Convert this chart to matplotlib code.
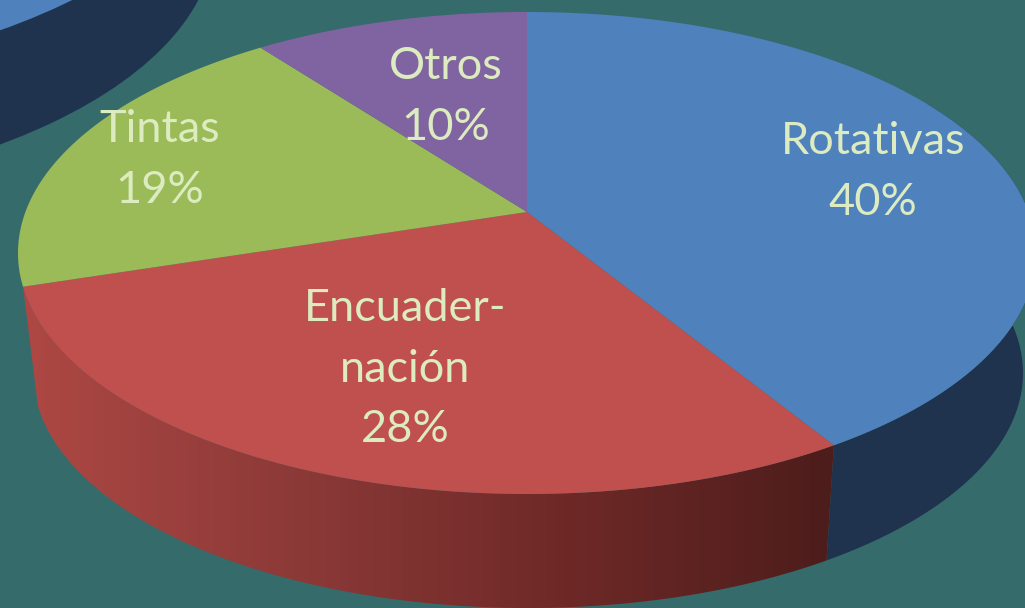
import numpy as np
import matplotlib
matplotlib.use("Agg")
import matplotlib.pyplot as plt
from matplotlib.patches import Polygon, Ellipse
from matplotlib.colors import LinearSegmentedColormap

# data (clockwise from 12 o'clock)
categories = ["Rotativas", "Encuader-\nnación", "Tintas", "Otros"]
values = [40, 28, 19, 10]
slice_colors = ["#4F81BD", "#C0504D", "#9BBB59", "#8064A2"]
label_centers = [(873, 172), (405, 369), (160, 160), (446, 97)]

BG = "#366B6C"
NAVY = "#1F334F"
TXT = "#DDEBC0"

fig = plt.figure(figsize=(10.25, 6.08), dpi=100, facecolor=BG)
ax = fig.add_axes([0, 0, 1, 1])
ax.set_xlim(0, 1025)
ax.set_ylim(608, 0)
ax.axis("off")

# Top-left: part of a neighbouring pie
ax.add_patch(Ellipse((-341, -64), 2 * 556, 2 * 264, fc=NAVY, ec="none", zorder=1))
ax.add_patch(Ellipse((-341, -186), 2 * 570, 2 * 270, fc=slice_colors[0], ec="none", zorder=2))

# Perspective mapping of a unit circle to the top ellipse of the main pie
CX, CY, RX, RY = 527, 253, 509, 241
LX, LY, LRX, LRY = 528, 373, 495, 235
A = -41 / 241


def project(theta):
    x, y = np.sin(theta), -np.cos(theta)
    d = 1 + A * y
    return x * np.sqrt(1 - A ** 2) / d, (y + A) / d


fr = np.cumsum([0] + values) / np.sum(values) * 2 * np.pi
apex = (CX, CY + A * RY)


def arc(t0, t1, n=300):
    return project(np.linspace(t0, t1, n))


# Side walls
u, v = arc(np.radians(60), fr[1])
side = np.r_[np.c_[CX + RX * u, CY + RY * v], np.c_[LX + LRX * u, LY + LRY * v][::-1]]
ax.add_patch(Polygon(side, fc=NAVY, ec="none", zorder=3))

u, v = arc(fr[1], fr[2])
side = np.r_[np.c_[CX + RX * u, CY + RY * v], np.c_[LX + LRX * u, LY + LRY * v][::-1]]
red_side = Polygon(side, fc="none", ec="none", zorder=3)
ax.add_patch(red_side)
cmap = LinearSegmentedColormap.from_list(
    "side", ["#AE4844", "#8C3A38", "#6E2927", "#4C1D1B"])
im = ax.imshow(np.linspace(0, 1, 256)[None, :], cmap=cmap, extent=(20, 836, 608, 280),
               aspect="auto", zorder=3)
ax.set_xlim(0, 1025)
ax.set_ylim(608, 0)
im.set_clip_path(red_side)

# Top faces
for i, c in enumerate(slice_colors):
    u, v = arc(fr[i], fr[i + 1])
    pts = np.r_[[apex], np.c_[CX + RX * u, CY + RY * v]]
    ax.add_patch(Polygon(pts, fc=c, ec="none", zorder=4))

# Labels
for cat, val, (x, y) in zip(categories, values, label_centers):
    ax.text(x, y, f"{cat}\n{val}%", ha="center", va="center", color=TXT,
            fontsize=32.5, family="Lato", linespacing=1.58, zorder=5)

fig.savefig("out.png", dpi=100, facecolor=BG)
